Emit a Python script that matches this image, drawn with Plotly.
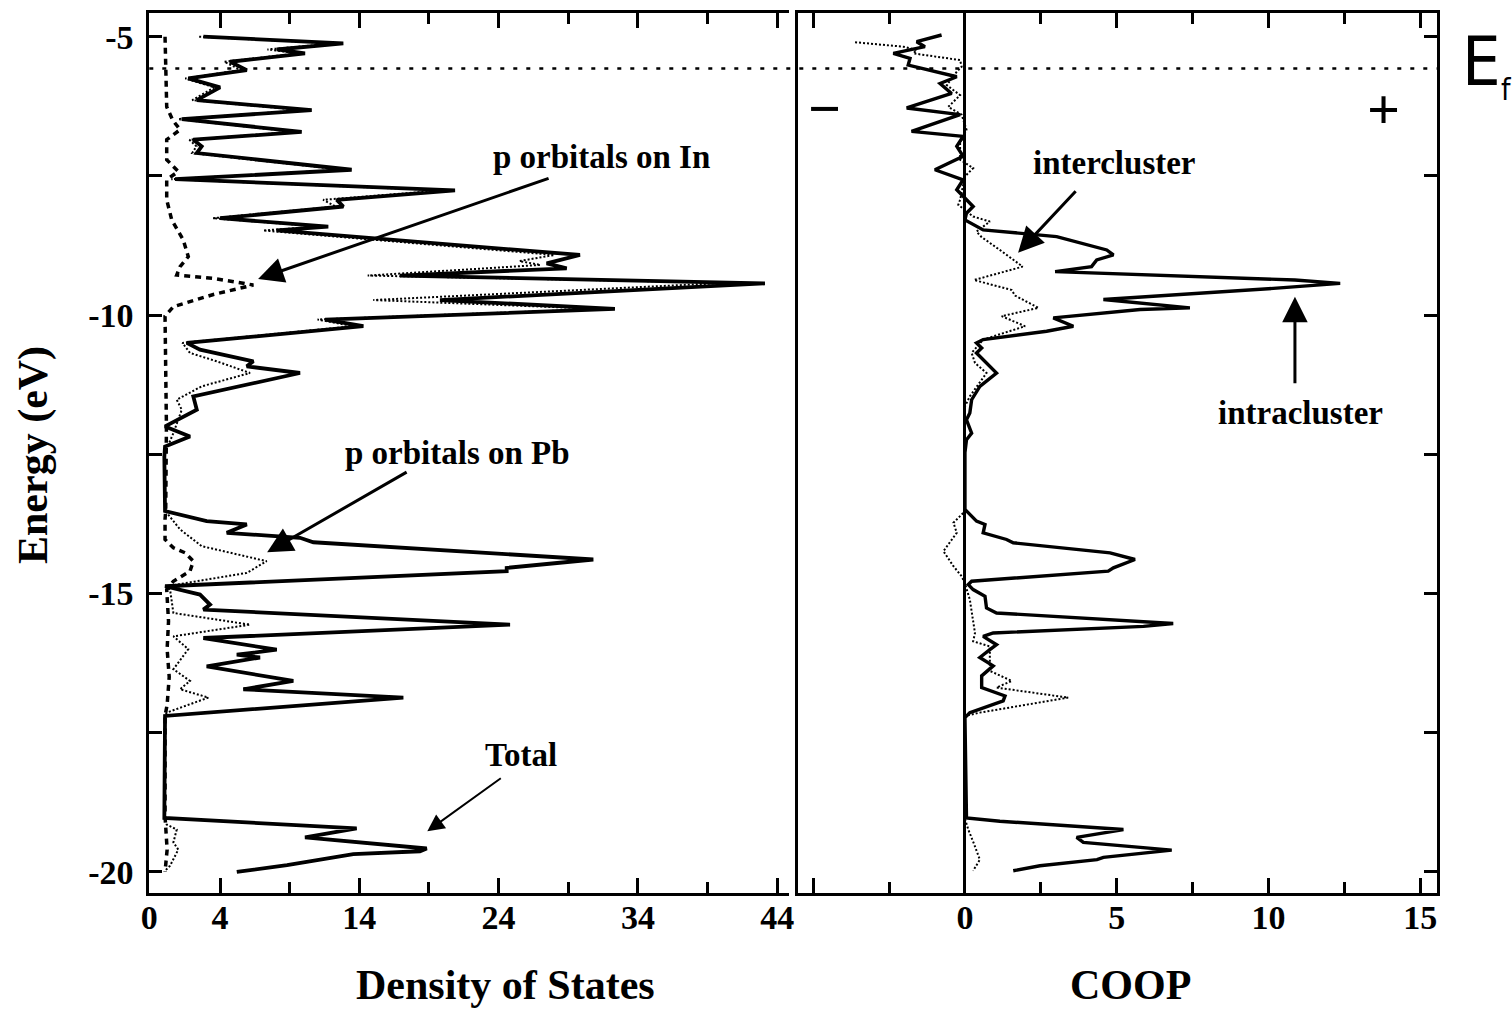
import plotly.graph_objects as go

# ---------------- data ----------------
EF = -5.57  # Fermi level (eV)

# Total DOS
tot_E = [-5.00, -5.12, -5.23, -5.30, -5.45, -5.60, -5.75, -5.91, -6.14, -6.32,
         -6.48, -6.71, -6.85, -6.97, -7.09, -7.39, -7.56, -7.76, -7.93, -8.05,
         -8.26, -8.41, -8.48, -8.92, -9.07, -9.16, -9.29, -9.43, -9.73, -9.89,
         -10.08, -10.20, -10.50, -10.62, -10.83, -10.92, -11.04, -11.46, -11.70, -12.00,
         -12.18, -12.36, -12.54, -13.49, -13.52, -13.70, -13.76, -13.91, -14.00, -14.08,
         -14.39, -14.54, -14.60, -14.87, -15.02, -15.20, -15.29, -15.56, -15.80, -16.01,
         -16.10, -16.15, -16.31, -16.57, -16.72, -16.87, -17.20, -19.03, -19.22, -19.38,
         -19.58, -19.63, -19.68, -19.88, -20.00]
tot_D = [2.80, 12.85, 8.07, 10.10, 4.72, 5.92, 1.72, 4.00, 2.33, 10.58,
         1.25, 9.86, 2.08, 2.68, 2.33, 13.45, 0.77, 20.87, 12.38, 12.85,
         4.00, 11.77, 8.07, 29.84, 27.45, 28.89, 16.92, 43.12, 19.79, 32.35,
         11.54, 14.29, 1.61, 2.56, 6.39, 5.92, 9.74, 2.08, 2.33, 0.05,
         1.84, 0.05, 0.00, 0.00, 0.05, 3.04, 5.92, 4.48, 9.74, 10.70,
         30.80, 24.58, 24.58, 0.05, 2.56, 3.28, 2.80, 24.82, 2.80, 8.07,
         5.20, 6.87, 3.04, 9.26, 5.67, 17.16, 0.05, 0.00, 13.81, 10.10,
         18.84, 18.35, 13.57, 8.81, 5.20]

# p orbitals on Pb
pb_E = [-5.00, -5.12, -5.23, -5.30, -5.45, -5.60, -5.75, -5.91, -6.14, -6.32,
        -6.48, -6.71, -6.85, -6.97, -7.09, -7.39, -7.56, -7.76, -7.93, -8.05,
        -8.26, -8.41, -8.48, -8.92, -9.03, -9.10, -9.29, -9.42, -9.73, -9.89,
        -10.08, -10.20, -10.50, -10.68, -10.83, -11.04, -11.28, -11.52, -11.70, -12.12,
        -12.47, -13.50, -13.55, -13.85, -14.15, -14.42, -14.63, -14.87, -14.93, -15.35,
        -15.56, -15.77, -16.00, -16.36, -16.57, -16.72, -16.87, -17.14, -17.20, -19.05,
        -19.15, -19.24, -19.47, -19.60, -19.89, -19.98]
pb_D = [2.50, 12.30, 7.40, 9.60, 4.30, 5.50, 1.50, 3.60, 2.00, 10.00,
        1.00, 9.30, 1.80, 2.30, 2.00, 12.80, 0.50, 20.00, 11.40, 12.30,
        3.50, 11.20, 7.10, 28.00, 25.50, 27.00, 14.60, 40.50, 15.00, 31.50,
        11.00, 13.60, 1.30, 1.84, 3.76, 6.15, 2.68, 0.89, 1.25, 0.65,
        0.05, 0.05, 0.17, 1.13, 2.68, 7.35, 5.92, 0.17, 0.41, 0.65,
        6.15, 0.65, 1.72, 0.65, 1.84, 1.13, 3.16, 0.17, 0.05, 0.05,
        0.17, 0.89, 0.65, 1.00, 0.41, 0.05]

# p orbitals on In
in_E = [-5.00, -5.57, -6.26, -6.50, -6.67, -6.85, -7.21, -7.42, -7.57, -7.93,
        -8.29, -8.65, -8.95, -9.13, -9.28, -9.34, -9.46, -9.63, -9.85, -10.02,
        -11.00, -12.00, -13.50, -13.67, -14.03, -14.18, -14.27, -14.42, -14.60, -14.78,
        -14.93, -15.50, -16.00, -16.50, -17.00, -17.20, -19.00, -19.30, -19.60, -20.00]
in_D = [0.05, 0.10, 0.17, 0.60, 1.13, 0.17, 0.17, 1.00, 0.17, 0.17,
        0.53, 1.36, 1.72, 1.13, 0.89, 3.52, 6.39, 3.52, 0.65, 0.05,
        0.10, 0.15, 0.10, 0.05, 0.05, 0.65, 1.49, 2.08, 1.84, 0.65,
        0.17, 0.30, 0.20, 0.35, 0.20, 0.05, 0.05, 0.15, 0.20, 0.05]

# COOP intracluster
intra_E = [-4.97, -5.09, -5.18, -5.30, -5.39, -5.51, -5.72, -5.84, -6.02, -6.28,
           -6.40, -6.70, -6.79, -6.97, -7.15, -7.39, -7.57, -7.75, -8.05, -8.17,
           -8.29, -8.47, -8.59, -8.83, -8.92, -9.01, -9.13, -9.22, -9.37, -9.43,
           -9.52, -9.72, -9.87, -9.90, -10.05, -10.20, -10.29, -10.44, -10.50, -10.59,
           -10.68, -11.04, -11.28, -11.52, -11.76, -11.88, -12.12, -12.24, -12.47, -13.49,
           -13.70, -13.76, -13.91, -14.03, -14.09, -14.27, -14.39, -14.54, -14.60, -14.78,
           -14.84, -14.93, -15.05, -15.26, -15.35, -15.54, -15.59, -15.71, -15.77, -15.92,
           -16.01, -16.15, -16.30, -16.48, -16.69, -16.84, -16.93, -17.14, -17.23, -19.03,
           -19.09, -19.24, -19.38, -19.47, -19.61, -19.74, -19.78, -19.89, -19.98]
intra_C = [-0.77, -1.59, -1.32, -2.36, -1.81, -1.87, -0.27, -0.82, -0.44, -1.92,
           -0.16, -1.76, -0.06, -0.27, -0.06, -0.99, -0.06, -0.27, 0.27, 0.05,
           0.00, 0.60, 3.02, 4.67, 4.89, 4.34, 4.17, 2.97, 10.87, 12.36,
           10.16, 4.56, 7.41, 5.77, 2.91, 3.57, 2.69, 0.60, 0.38, 0.55,
           0.38, 1.04, 0.49, 0.22, 0.16, 0.05, 0.22, 0.05, 0.00, 0.00,
           0.38, 0.66, 0.60, 1.37, 1.59, 4.78, 5.60, 4.89, 4.72, 0.22,
           0.11, 0.27, 0.66, 0.71, 1.04, 6.86, 5.88, 0.93, 0.60, 1.04,
           0.82, 0.49, 0.93, 0.55, 0.55, 1.32, 1.26, 0.16, 0.00, 0.05,
           1.15, 5.22, 3.68, 3.90, 6.81, 4.56, 4.35, 2.47, 1.59]

# COOP intercluster
inter_E = [-5.10, -5.18, -5.24, -5.30, -5.42, -5.54, -5.63, -5.87, -6.05, -6.26,
           -6.40, -6.67, -6.91, -7.21, -7.36, -7.51, -7.93, -8.02, -8.23, -8.32,
           -8.50, -8.60, -8.85, -9.13, -9.37, -9.55, -9.65, -9.87, -10.02, -10.20,
           -10.44, -10.68, -10.86, -11.04, -11.46, -11.64, -13.45, -13.55, -13.73, -13.91,
           -14.24, -14.51, -14.69, -14.82, -15.11, -15.71, -15.86, -15.95, -16.39, -16.57,
           -16.69, -16.87, -17.14, -17.20, -19.05, -19.24, -19.50, -19.78, -19.98]
inter_C = [-3.62, -2.03, -1.59, -1.70, -0.16, -0.11, -0.27, -0.60, -0.16, -0.55,
           -0.11, 0.05, -0.16, -0.16, 0.27, 0.00, -0.16, -0.22, 0.27, 0.82,
           0.38, 0.55, 1.20, 1.90, 0.30, 1.54, 1.65, 2.42, 1.21, 1.98,
           0.60, 0.22, 0.33, 0.71, 0.16, 0.00, 0.00, -0.05, -0.38, -0.27,
           -0.71, -0.38, -0.11, 0.00, 0.16, 0.33, 0.27, 0.82, 0.82, 1.54,
           1.04, 3.40, 0.49, 0.00, 0.00, 0.11, 0.30, 0.49, 0.27]

# ticks
dos_tickvals = [-1.08, 4, 14, 24, 34, 44]
dos_ticktext = ["0", "4", "14", "24", "34", "44"]
dos_minor = [9, 19, 29, 39]
coop_tickvals = [-5, 0, 5, 10, 15]
coop_ticktext = ["", "0", "5", "10", "15"]
coop_minor = [-2.5, 2.5, 7.5, 12.5]
e_tickvals = [-5, -10, -15, -20]
e_ticktext = ["-5", "-10", "-15", "-20"]
e_minor = [-7.5, -12.5, -17.5]

DOS_RANGE = [-1.08, 44.85]
COOP_RANGE = [-5.50, 15.54]
E_RANGE = [-20.374, -4.58]

# ---------------- layout helpers ----------------
W, H = 1512, 1009
SERIF = "Liberation Serif, Times New Roman, serif"
SANS = "Liberation Sans Narrow, DejaVu Sans Condensed, Liberation Sans, Arial, sans-serif"


def px(x):
    return x / W


def py(y):
    return 1 - y / H


L_DOM = [px(149.3), px(789)]
R_DOM = [px(798), px(1436.7)]
Y_DOM = [py(892.7), py(13.3)]

fig = go.Figure()

fig.add_trace(go.Scatter(x=in_D, y=in_E, mode="lines", name="p orbitals on In",
                         line=dict(color="black", width=3.5, dash="6px,5px"),
                         xaxis="x", yaxis="y"))
fig.add_trace(go.Scatter(x=pb_D, y=pb_E, mode="lines", name="p orbitals on Pb",
                         line=dict(color="black", width=2, dash="2px,2px"),
                         xaxis="x", yaxis="y"))
fig.add_trace(go.Scatter(x=tot_D, y=tot_E, mode="lines", name="Total",
                         line=dict(color="black", width=3.8),
                         xaxis="x", yaxis="y"))
fig.add_trace(go.Scatter(x=inter_C, y=inter_E, mode="lines", name="intercluster",
                         line=dict(color="black", width=2, dash="2px,2px"),
                         xaxis="x2", yaxis="y2"))
fig.add_trace(go.Scatter(x=intra_C, y=intra_E, mode="lines", name="intracluster",
                         line=dict(color="black", width=3.4),
                         xaxis="x2", yaxis="y2"))

tickfont = dict(family=SERIF, size=34, color="black", weight="bold")
common_x = dict(showline=True, linewidth=3, linecolor="black", mirror="ticks",
                ticks="inside", ticklen=15, tickwidth=2.5, tickcolor="black",
                showgrid=False, tickfont=tickfont, tickmode="array",
                automargin=False, ticklabelstandoff=-8)
common_y = dict(showline=True, linewidth=3, linecolor="black",
                ticks="inside", ticklen=13, tickwidth=2.5, tickcolor="black",
                showgrid=False, zeroline=False, tickmode="array", range=E_RANGE,
                domain=Y_DOM, tickfont=tickfont, automargin=False)

fig.update_layout(
    width=W, height=H,
    autosize=False,
    margin=dict(l=0, r=0, t=0, b=0, pad=0),
    paper_bgcolor="white", plot_bgcolor="white",
    showlegend=False,
    xaxis=dict(domain=L_DOM, range=DOS_RANGE, anchor="y", zeroline=False,
               tickvals=dos_tickvals, ticktext=dos_ticktext,
               minor=dict(tickvals=dos_minor, ticklen=11, tickwidth=2.5,
                          ticks="inside", tickcolor="black"),
               **common_x),
    yaxis=dict(anchor="x", mirror=False, tickvals=e_tickvals, ticktext=e_ticktext,
               ticklabelstandoff=6,
               minor=dict(tickvals=e_minor, ticklen=13, tickwidth=2.5,
                          ticks="inside", tickcolor="black"),
               **common_y),
    xaxis2=dict(domain=R_DOM, range=COOP_RANGE, anchor="y2",
                zeroline=True, zerolinewidth=3, zerolinecolor="black",
                tickvals=coop_tickvals, ticktext=coop_ticktext,
                minor=dict(tickvals=coop_minor, ticklen=11, tickwidth=2.5,
                           ticks="inside", tickcolor="black"),
                **common_x),
    yaxis2=dict(anchor="x2", side="right", mirror=True, tickvals=e_tickvals,
                showticklabels=False,
                minor=dict(tickvals=e_minor, ticklen=13, tickwidth=2.5,
                           ticks="inside", tickcolor="black"),
                **common_y),
)

# Fermi level line across both panels
fig.add_shape(type="line", xref="paper", yref="y", x0=L_DOM[0], x1=R_DOM[1],
              y0=EF, y1=EF, line=dict(color="black", width=2.5, dash="4px,9px"))

ann = []


def text_ann(txt, x, y, font, **kw):
    d = dict(text=txt, x=px(x), y=py(y), xref="paper", yref="paper",
             showarrow=False, font=font, xanchor="center", yanchor="middle")
    d.update(kw)
    ann.append(d)


lab_font = dict(family=SERIF, size=33, color="black", weight="bold")
for txt, x, y in [("p orbitals on In", 601, 157), ("p orbitals on Pb", 457, 453),
                  ("Total", 521, 755), ("intercluster", 1114, 163),
                  ("intracluster", 1300, 413)]:
    text_ann(txt, x, y, lab_font)

# arrows (head given in data coordinates, tail offset in pixels)
for xr, yr, hx, hy, ax, ay, w in [("x", "y", 6.73, -9.35, 292, -101, 3),
                                  ("x", "y", 7.38, -14.26, 141, -81, 3),
                                  ("x", "y", 18.88, -19.27, 75, -54, 2),
                                  ("x2", "y2", 1.75, -8.88, 59, -63, 3),
                                  ("x2", "y2", 10.87, -9.67, 0, 88, 3)]:
    ann.append(dict(text="", x=hx, y=hy, xref=xr, yref=yr, ax=ax, ay=ay,
                    showarrow=True, arrowhead=2, arrowsize=1.7, arrowwidth=w,
                    arrowcolor="black", standoff=0, startstandoff=0))

# signs
sign_font = dict(family=SERIF, size=58, color="black", weight="bold")
text_ann("+", 1383, 110, sign_font)
text_ann("\u2212", 825, 108, sign_font)

# E_f label
text_ann("E", 1481, 62, dict(family=SANS, size=68, color="black"))
text_ann("f", 1506, 90, dict(family=SANS, size=30, color="black"))

# axis titles
title_font = dict(family=SERIF, size=42, color="black", weight="bold")
text_ann("Density of States", 505, 985, title_font)
text_ann("COOP", 1130, 985, title_font)
text_ann("Energy (eV)", 33, 455, title_font, textangle=-90)

fig.update_layout(annotations=ann)

fig.write_html("out.html",
               config={"responsive": False, "displayModeBar": False},
               post_script="document.body.style.margin='0';document.body.style.overflow='hidden';")
